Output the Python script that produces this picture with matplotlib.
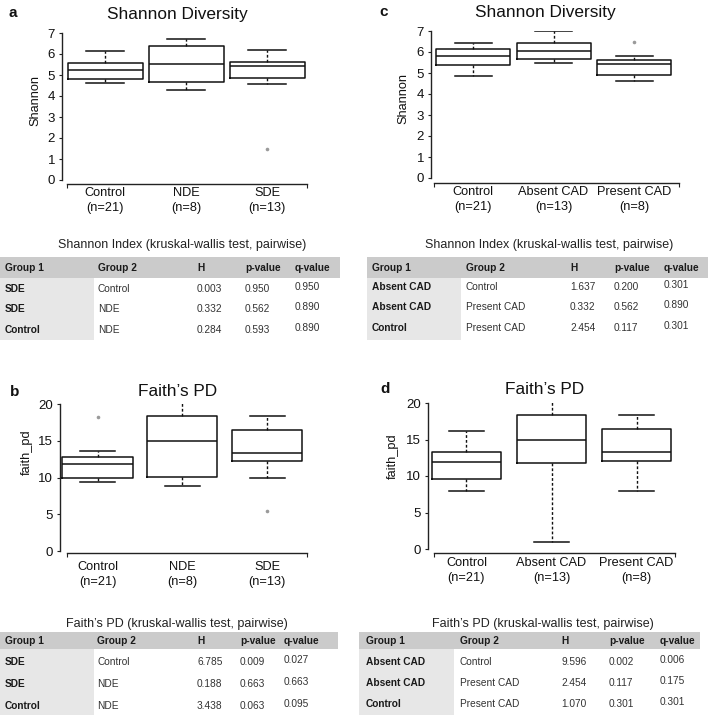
import matplotlib.pyplot as plt
from matplotlib.patches import Rectangle

plt.rcParams['font.family'] = ['Liberation Sans', 'DejaVu Sans']

W, H = 709, 715
fig = plt.figure(figsize=(W / 100, H / 100), dpi=100)

# groups
dep_groups = ['Control', 'NDE', 'SDE']
dep_n = [21, 8, 13]
cad_groups = ['Control', 'Absent CAD', 'Present CAD']
cad_n = [21, 13, 8]

# box statistics (low whisker, q1, median, q3, high whisker, outliers)
sh_dep_lo = [4.63, 4.30, 4.57]
sh_dep_q1 = [4.80, 4.66, 4.88]
sh_dep_med = [5.23, 5.54, 5.43]
sh_dep_q3 = [5.57, 6.40, 5.60]
sh_dep_hi = [6.15, 6.70, 6.20]
sh_dep_out = [[], [], [1.5]]

sh_cad_lo = [4.86, 5.47, 4.60]
sh_cad_q1 = [5.36, 5.66, 4.90]
sh_cad_med = [5.79, 6.07, 5.43]
sh_cad_q3 = [6.14, 6.44, 5.60]
sh_cad_hi = [6.44, 7.00, 5.79]
sh_cad_out = [[], [], [6.5]]

fp_dep_lo = [9.4, 8.8, 10.0]
fp_dep_q1 = [10.0, 10.1, 12.2]
fp_dep_med = [11.8, 14.9, 13.4]
fp_dep_q3 = [12.8, 18.3, 16.4]
fp_dep_hi = [13.6, 20.1, 18.3]
fp_dep_out = [[18.2], [], [5.4]]

fp_cad_lo = [7.9, 1.0, 7.9]
fp_cad_q1 = [9.65, 11.8, 12.1]
fp_cad_med = [11.9, 14.9, 13.3]
fp_cad_q3 = [13.3, 18.3, 16.4]
fp_cad_hi = [16.2, 20.1, 18.4]
fp_cad_out = [[], [], []]

# pairwise kruskal-wallis tables
sh_dep_g1 = ['SDE', 'SDE', 'Control']
sh_dep_g2 = ['Control', 'NDE', 'NDE']
sh_dep_h = ['0.003', '0.332', '0.284']
sh_dep_p = ['0.950', '0.562', '0.593']
sh_dep_q = ['0.950', '0.890', '0.890']

sh_cad_g1 = ['Absent CAD', 'Absent CAD', 'Control']
sh_cad_g2 = ['Control', 'Present CAD', 'Present CAD']
sh_cad_h = ['1.637', '0.332', '2.454']
sh_cad_p = ['0.200', '0.562', '0.117']
sh_cad_q = ['0.301', '0.890', '0.301']

fp_dep_g1 = ['SDE', 'SDE', 'Control']
fp_dep_g2 = ['Control', 'NDE', 'NDE']
fp_dep_h = ['6.785', '0.188', '3.438']
fp_dep_p = ['0.009', '0.663', '0.063']
fp_dep_q = ['0.027', '0.663', '0.095']

fp_cad_g1 = ['Absent CAD', 'Absent CAD', 'Control']
fp_cad_g2 = ['Control', 'Present CAD', 'Present CAD']
fp_cad_h = ['9.596', '2.454', '1.070']
fp_cad_p = ['0.002', '0.117', '0.301']
fp_cad_q = ['0.006', '0.175', '0.301']

header = ['Group 1', 'Group 2', 'H', 'p-value', 'q-value']


def fx(x):
    return x / W


def fy(y):
    return 1 - y / H


def box_panel(letter, title, ylabel, groups, ns, lo, q1, med, q3, hi, out, ymax, yticks,
              left, c1, step, right, top, bottom, bw, sx0, sx1, soff, pad,
              title_xy, letter_xy, ylab_xy):
    ax = fig.add_axes([fx(left), fy(bottom), (right - left) / W, (bottom - top) / H])
    stats = []
    for i in range(len(groups)):
        stats.append(dict(whislo=lo[i], q1=q1[i], med=med[i], q3=q3[i],
                          whishi=hi[i], fliers=out[i]))
    pos = [1, 2, 3]
    ax.bxp(stats, positions=pos, widths=bw / step, capwidths=0.5 * bw / step,
           manage_ticks=False,
           boxprops=dict(color='#111111', linewidth=1.1),
           medianprops=dict(color='#111111', linewidth=1.1),
           whiskerprops=dict(color='#111111', linewidth=1.0, linestyle=(0, (2, 1.5))),
           capprops=dict(color='#111111', linewidth=1.1),
           flierprops=dict(marker='o', markersize=2.6, markerfacecolor='#9a9a9a',
                           markeredgecolor='none'))
    ax.set_xlim(1 - (c1 - left) / step, 1 + (right - c1) / step)
    ax.set_ylim(0, ymax)
    for s in ['top', 'right']:
        ax.spines[s].set_visible(False)
    ax.spines['left'].set_bounds(0, ymax)
    ax.spines['bottom'].set_position(('outward', soff * 0.72))
    xa = 1 - (c1 - sx0) / step
    xb = 1 + (sx1 - c1) / step
    ax.spines['bottom'].set_bounds(xa, xb)
    for s in ['left', 'bottom']:
        ax.spines[s].set_color('#222222')
        ax.spines[s].set_linewidth(1.0)
    ax.set_yticks(yticks)
    ax.tick_params(axis='y', length=2.5, width=0.8, pad=2.5, labelsize=9.5,
                   color='#222222', labelcolor='#111111')
    ax.set_xticks(pos)
    ax.set_xticklabels([f'{g}\n(n={n})' for g, n in zip(groups, ns)], linespacing=1.35)
    ax.tick_params(axis='x', which='major', length=0, pad=pad * 0.72, labelsize=9.2,
                   labelcolor='#111111')
    ax.set_xticks([xa, xb], minor=True)
    ax.tick_params(axis='x', which='minor', length=3, width=0.8, color='#222222')
    ax.set_ylabel(ylabel, fontsize=9.2, color='#111111')
    # label anchor is its right edge, so shift by half the text height
    ax.yaxis.set_label_coords((ylab_xy[0] + 6 - left) / (right - left),
                              (bottom - ylab_xy[1]) / (bottom - top))
    fig.text(fx(title_xy[0]), fy(title_xy[1]), title, fontsize=12.4, ha='center',
             va='center', color='#111111')
    fig.text(fx(letter_xy[0]), fy(letter_xy[1]), letter, fontsize=11, fontweight='bold',
             ha='center', va='center', color='#111111')
    return ax


def table(title, title_xy, g1, g2, hv, pv, qv, band, lcol, head_y, rows_y, cols):
    fig.text(fx(title_xy[0]), fy(title_xy[1]), title, fontsize=9, ha='center',
             va='center', color='#222222')
    x0, y0, x1, y1 = band
    fig.add_artist(Rectangle((fx(x0), fy(y1)), (x1 - x0) / W, (y1 - y0) / H,
                             transform=fig.transFigure, facecolor='#cbcbcb',
                             edgecolor='none'))
    x0, y0, x1, y1 = lcol
    fig.add_artist(Rectangle((fx(x0), fy(y1)), (x1 - x0) / W, (y1 - y0) / H,
                             transform=fig.transFigure, facecolor='#e7e7e7',
                             edgecolor='none'))
    for c, h in zip(cols, header):
        fig.text(fx(c), fy(head_y), h, fontsize=7.3, fontweight='bold', ha='left',
                 va='center', color='#1a1a1a')
    for i, y in enumerate(rows_y):
        fig.text(fx(cols[0]), fy(y), g1[i], fontsize=7.3, fontweight='bold', ha='left',
                 va='center', color='#1a1a1a')
        fig.text(fx(cols[1]), fy(y), g2[i], fontsize=7.3, ha='left', va='center',
                 color='#333333')
        fig.text(fx(cols[2]), fy(y), hv[i], fontsize=7.3, ha='left', va='center',
                 color='#333333')
        fig.text(fx(cols[3]), fy(y), pv[i], fontsize=7.3, ha='left', va='center',
                 color='#333333')
        fig.text(fx(cols[4]), fy(y - 2), qv[i], fontsize=7.3, ha='left', va='center',
                 color='#333333')


# panel a
box_panel('a', 'Shannon Diversity', 'Shannon', dep_groups, dep_n,
          sh_dep_lo, sh_dep_q1, sh_dep_med, sh_dep_q3, sh_dep_hi, sh_dep_out,
          7, range(0, 8), 62, 105, 81, 312, 33, 180, 75, 67, 307, 4, 3,
          (177, 15), (13, 13), (35, 100))
# panel c
box_panel('c', 'Shannon Diversity', 'Shannon', cad_groups, cad_n,
          sh_cad_lo, sh_cad_q1, sh_cad_med, sh_cad_q3, sh_cad_hi, sh_cad_out,
          7, range(0, 8), 431, 473, 80.5, 682, 31, 178, 74, 434, 679, 5, 3,
          (545, 13), (384, 12), (403, 98))
# panel b
box_panel('b', 'Faith\u2019s PD', 'faith_pd', dep_groups, dep_n,
          fp_dep_lo, fp_dep_q1, fp_dep_med, fp_dep_q3, fp_dep_hi, fp_dep_out,
          20, range(0, 21, 5), 60, 97.5, 84.75, 310, 404, 551, 70, 67, 307, 2, 8,
          (178, 392), (15, 392), (27, 452))
# panel d
box_panel('d', 'Faith\u2019s PD', 'faith_pd', cad_groups, cad_n,
          fp_cad_lo, fp_cad_q1, fp_cad_med, fp_cad_q3, fp_cad_hi, fp_cad_out,
          20, range(0, 21, 5), 428, 466.5, 85, 680, 403, 549, 69, 434, 675, 4, 4,
          (545, 389), (385, 389), (393, 456))

table('Shannon Index (kruskal-wallis test, pairwise)', (182, 245),
      sh_dep_g1, sh_dep_g2, sh_dep_h, sh_dep_p, sh_dep_q,
      (0, 257, 340, 278), (0, 278, 94, 340), 268, [289, 309, 330],
      [5, 98, 197, 245, 295])
table('Shannon Index (kruskal-wallis test, pairwise)', (549, 245),
      sh_cad_g1, sh_cad_g2, sh_cad_h, sh_cad_p, sh_cad_q,
      (367, 257, 708, 278), (367, 278, 461, 340), 268, [287, 307, 328],
      [372, 466, 570, 614, 664])
table('Faith\u2019s PD (kruskal-wallis test, pairwise)', (177, 624),
      fp_dep_g1, fp_dep_g2, fp_dep_h, fp_dep_p, fp_dep_q,
      (0, 632, 338, 649), (0, 649, 94, 715), 641, [662, 684, 706],
      [5, 97, 197, 240, 284])
table('Faith\u2019s PD (kruskal-wallis test, pairwise)', (543, 624),
      fp_cad_g1, fp_cad_g2, fp_cad_h, fp_cad_p, fp_cad_q,
      (359, 632, 700, 649), (359, 649, 454, 715), 641, [662, 683, 704],
      [366, 460, 561, 609, 660])

fig.savefig('out.png', dpi=100)
